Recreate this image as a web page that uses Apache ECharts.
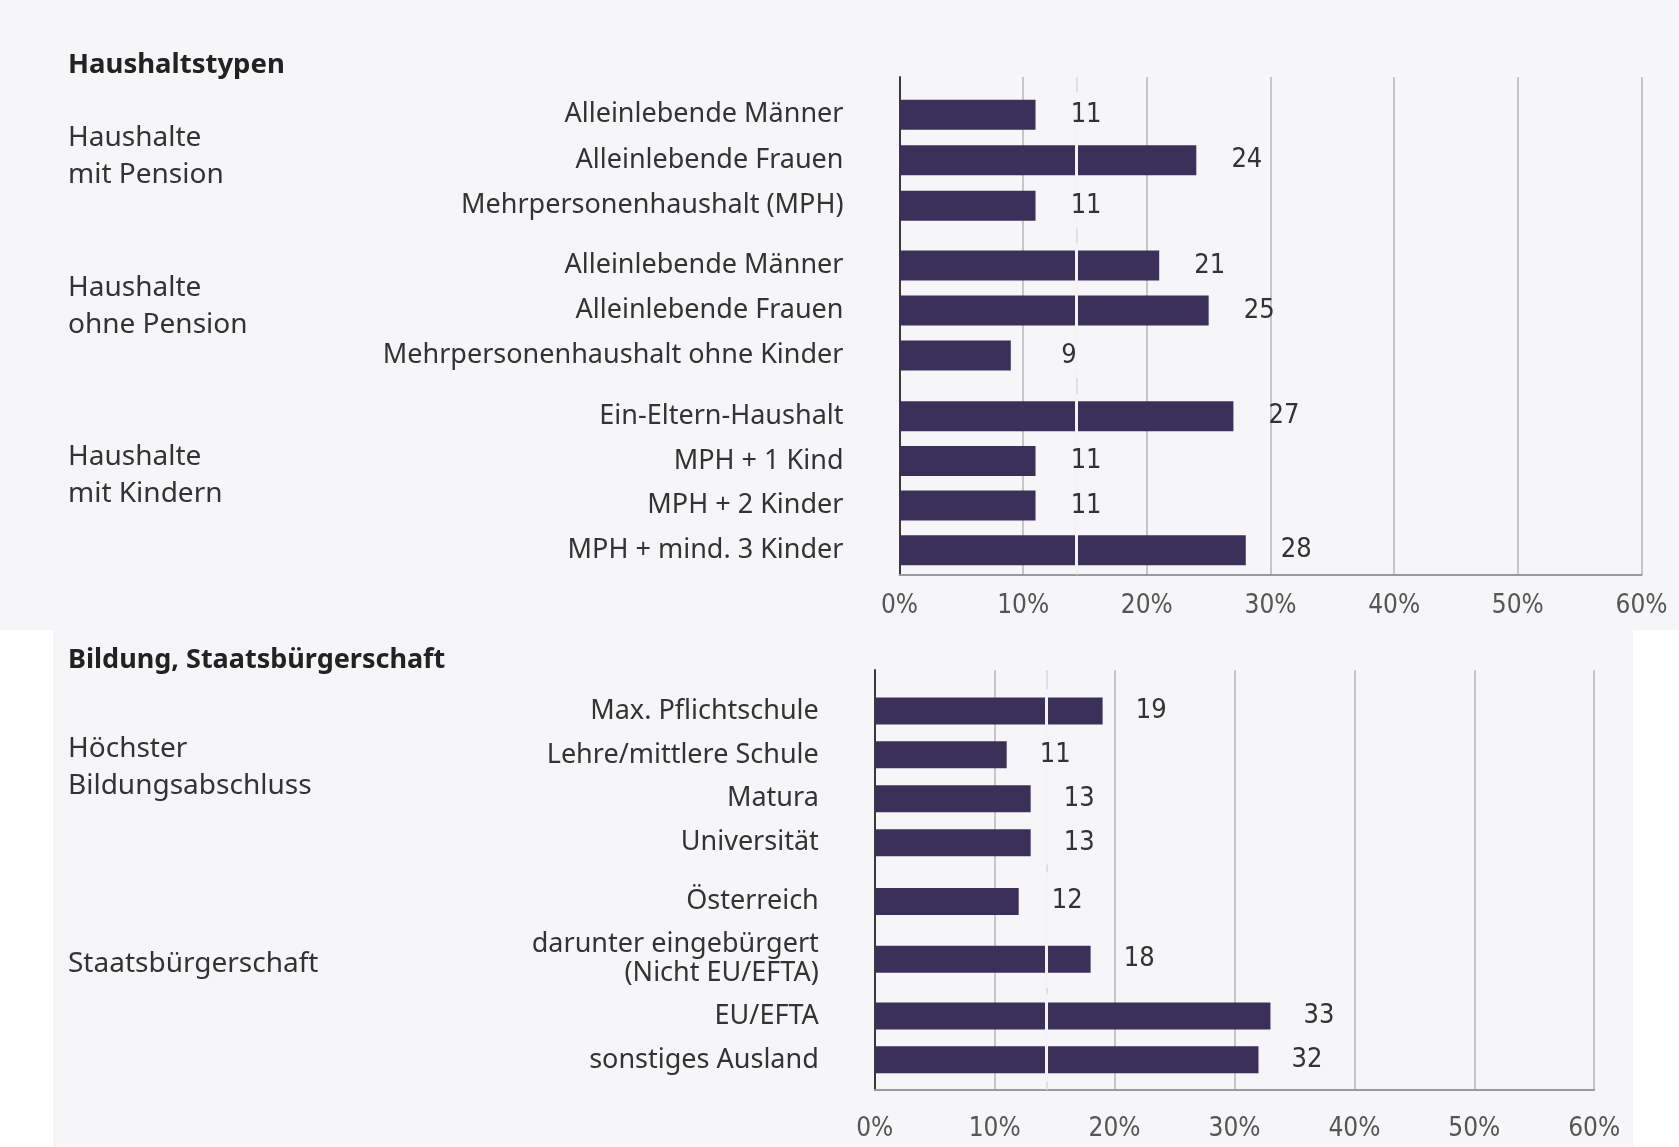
<!DOCTYPE html>
<html>
<head>
<meta charset="utf-8">
<script src="https://cdn.jsdelivr.net/npm/echarts@6/dist/echarts.min.js"></script>
<style>
html,body{margin:0;padding:0;background:#ffffff;}
#chart{width:1679px;height:1147px;}
</style>
</head>
<body>
<div id="chart"></div>
<script>
// ---------- data ----------
const topTitle = 'Haushaltstypen';
const topGroupLabels = ['Haushalte\nmit Pension', 'Haushalte\nohne Pension', 'Haushalte\nmit Kindern'];
const topCats1 = ['Alleinlebende Männer', 'Alleinlebende Frauen', 'Mehrpersonenhaushalt (MPH)'];
const topVals1 = [11, 24, 11];
const topCats2 = ['Alleinlebende Männer', 'Alleinlebende Frauen', 'Mehrpersonenhaushalt ohne Kinder'];
const topVals2 = [21, 25, 9];
const topCats3 = ['Ein-Eltern-Haushalt', 'MPH + 1 Kind', 'MPH + 2 Kinder', 'MPH + mind. 3 Kinder'];
const topVals3 = [27, 11, 11, 28];

const botTitle = 'Bildung, Staatsbürgerschaft';
const botGroupLabels = ['Höchster\nBildungsabschluss', 'Staatsbürgerschaft'];
const botCats1 = ['Max. Pflichtschule', 'Lehre/mittlere Schule', 'Matura', 'Universität'];
const botVals1 = [19, 11, 13, 13];
const botCats2 = ['Österreich', 'darunter eingebürgert\n(Nicht EU/EFTA)'];
const botVals2 = [12, 18];
const botCats3 = ['EU/EFTA', 'sonstiges Ausland'];
const botVals3 = [33, 32];

const axisMin = 0, axisMax = 60, axisStep = 10;
const referenceValue = 14.3;

// ---------- styling ----------
const FONT = '"Noto Sans", sans-serif';
const NUMFONT = '"DejaVu Sans Condensed", "DejaVu Sans", sans-serif';
const BAR = '#3b3059';
const TXT = '#333333';

const topLeft = 899.5, topWidth = 742;
const botLeft = 874.8, botWidth = 719.4;

const grids = [
  {left: topLeft, top: 77, width: topWidth, height: 498},      // 0 background top
  {left: topLeft, top: 92, width: topWidth, height: 136.5},    // 1
  {left: topLeft, top: 243, width: topWidth, height: 135},     // 2
  {left: topLeft, top: 394, width: topWidth, height: 178.5},   // 3
  {left: botLeft, top: 670, width: botWidth, height: 420},     // 4 background bottom
  {left: botLeft, top: 689, width: botWidth, height: 175.6},   // 5
  {left: botLeft, top: 872.5, width: botWidth, height: 115.6}, // 6
  {left: botLeft, top: 994, width: botWidth, height: 87.8}     // 7
];

const xAxes = [], yAxes = [], series = [];

function bgAxes(gi, labelMargin) {
  xAxes.push({
    gridIndex: gi, type: 'value', min: axisMin, max: axisMax, interval: axisStep,
    axisLine: {show: true, lineStyle: {color: '#9a9aa0', width: 2}},
    axisTick: {show: false},
    splitLine: {show: true, lineStyle: {color: '#b4b4ba', width: 1.5}},
    axisLabel: {formatter: '{value}%', color: '#555', fontFamily: NUMFONT, fontSize: 26, margin: labelMargin}
  });
  yAxes.push({
    gridIndex: gi, type: 'value', min: 0, max: 1,
    axisLine: {show: true, onZero: false, lineStyle: {color: '#3a3a3a', width: 2}},
    axisTick: {show: false}, axisLabel: {show: false}, splitLine: {show: false}
  });
  // faint reference line behind everything
  series.push({
    type: 'line', xAxisIndex: xAxes.length - 1, yAxisIndex: yAxes.length - 1,
    data: [], z: 1, silent: true,
    markLine: {
      z: 1, silent: true, symbol: 'none', label: {show: false},
      lineStyle: {color: '#d6d6dc', width: 1.5, type: 'solid'},
      data: [{xAxis: referenceValue}]
    }
  });
}

function group(gi, cats, vals, barW, labelOffset) {
  xAxes.push({gridIndex: gi, type: 'value', min: axisMin, max: axisMax, show: false});
  yAxes.push({
    gridIndex: gi, type: 'category', inverse: true, data: cats,
    axisLine: {show: false}, axisTick: {show: false},
    axisLabel: {color: TXT, fontFamily: FONT, fontSize: 27, margin: 56, lineHeight: 29, align: 'right'}
  });
  const xi = xAxes.length - 1, yi = yAxes.length - 1;
  // visible bars
  series.push({
    type: 'bar', xAxisIndex: xi, yAxisIndex: yi,
    data: vals, barWidth: barW, z: 2, silent: true,
    itemStyle: {color: BAR}
  });
  // white reference line crossing the bars
  series.push({
    type: 'line', xAxisIndex: xi, yAxisIndex: yi,
    data: [], z: 3, silent: true,
    markLine: {
      z: 3, silent: true, symbol: 'none', label: {show: false},
      lineStyle: {color: '#f4f4f8', width: 3, type: 'solid'},
      data: [{xAxis: referenceValue}]
    }
  });
  // value labels on top
  series.push({
    type: 'bar', xAxisIndex: xi, yAxisIndex: yi,
    data: vals, barWidth: barW, barGap: '-100%', z: 4, silent: true,
    itemStyle: {color: 'rgba(0,0,0,0)'},
    label: {
      show: true, position: 'right', distance: 0, align: 'right', offset: [labelOffset, 0],
      color: TXT, fontFamily: NUMFONT, fontSize: 27, formatter: '{c}'
    }
  });
}

bgAxes(0, 18);
group(1, topCats1, topVals1, 30, 66);
group(2, topCats2, topVals2, 30, 66);
group(3, topCats3, topVals3, 30, 66);
bgAxes(4, 26);
group(5, botCats1, botVals1, 27, 64);
group(6, botCats2, botVals2, 27, 64);
group(7, botCats3, botVals3, 27, 64);

function txt(x, y, s, bold, size) {
  return {
    type: 'text', left: x, top: y, z: 5,
    style: {
      text: s, fill: bold ? '#222' : TXT, font: (bold ? 'bold ' : '') + size + 'px ' + FONT,
      lineHeight: 37, verticalAlign: 'middle'
    }
  };
}

const graphic = [
  {type: 'rect', z: -10, shape: {x: 0, y: 0, width: 1679, height: 630}, style: {fill: '#f6f6f9'}},
  {type: 'rect', z: -10, shape: {x: 53, y: 630, width: 1580, height: 517}, style: {fill: '#f6f6f9'}},
  txt(68, 47, topTitle, true, 27.5),
  txt(68, 120, topGroupLabels[0], false, 28),
  txt(68, 270, topGroupLabels[1], false, 28),
  txt(68, 439, topGroupLabels[2], false, 28),
  txt(68, 642, botTitle, true, 27),
  txt(68, 731, botGroupLabels[0], false, 28),
  txt(68, 946, botGroupLabels[1], false, 28)
];

const chart = echarts.init(document.getElementById('chart'), null, {renderer: 'canvas'});
chart.setOption({
  animation: false,
  backgroundColor: '#ffffff',
  graphic: graphic,
  grid: grids,
  xAxis: xAxes,
  yAxis: yAxes,
  series: series
});
</script>
</body>
</html>
